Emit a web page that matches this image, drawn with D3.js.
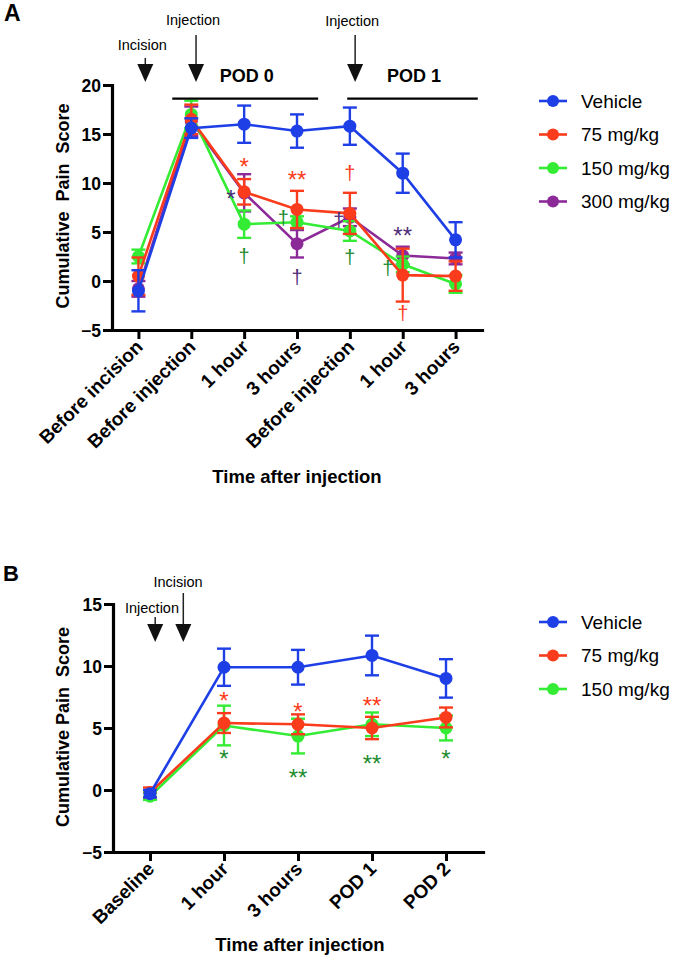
<!DOCTYPE html>
<html lang="en">
<head>
<meta charset="UTF-8">
<title>Cumulative pain score</title>
<style>
  body { margin: 0; background: #fff; }
  svg text { font-family: "Liberation Sans", Arial, Helvetica, sans-serif; }
</style>
</head>
<body>
<svg id="svg" width="677" height="960"></svg>
<script src="https://d3js.org/d3.v7.min.js"></script>
<script>
// ---------- panel A data ----------
const catsA = ["Before incision", "Before injection", "1 hour", "3 hours", "Before injection", "1 hour", "3 hours"];
const seriesA = ["Vehicle", "75 mg/kg", "150 mg/kg", "300 mg/kg"];
const vehicleA = [-1.0, 15.6, 16.0, 15.3, 15.8, 11.0, 4.2];
const vehicleErrA = [2.1, 1.0, 1.9, 1.7, 1.9, 2.0, 1.8];
const mg75A = [0.5, 16.5, 9.1, 7.3, 6.9, 0.6, 0.5];
const mg75ErrA = [1.9, 1.5, 1.3, 1.9, 2.1, 2.7, 1.5];
const mg150A = [2.5, 17.0, 5.8, 6.0, 5.1, 1.7, -0.3];
const mg150ErrA = [0.7, 1.4, 1.4, 0.6, 1.0, 0.8, 0.9];
const mg300A = [-0.8, 16.3, 9.0, 3.8, 6.5, 2.6, 2.3];
const mg300ErrA = [0.8, 1.5, 1.9, 1.4, 0.9, 0.9, 0.6];
const yTicksA = [-5, 0, 5, 10, 15, 20];
// significance marks: [symbol, series, category, value, shift (in category steps)]
const marksA = [
  ["*", 1, 2, 12.2, 0],
  ["**", 1, 3, 10.9, 0],
  ["*", 3, 2, 9.0, -0.25],
  ["\u2020", 2, 2, 2.5, 0],
  ["\u2020", 2, 3, 6.3, -0.26],
  ["\u2020", 3, 3, 0.3, 0],
  ["\u2020", 3, 4, 6.1, -0.21],
  ["\u2020", 1, 4, 10.9, 0],
  ["\u2020", 2, 4, 2.3, 0],
  ["\u2020", 2, 5, 1.2, -0.28],
  ["**", 3, 5, 5.2, 0],
  ["\u2020", 1, 5, -3.4, 0]
];

// ---------- panel B data ----------
const catsB = ["Baseline", "1 hour", "3 hours", "POD 1", "POD 2"];
const seriesB = ["Vehicle", "75 mg/kg", "150 mg/kg"];
const vehicleB = [-0.3, 9.9, 9.9, 10.85, 9.0];
const vehicleErrB = [0.3, 1.5, 1.4, 1.6, 1.55];
const mg75B = [-0.2, 5.4, 5.3, 5.0, 5.85];
const mg75ErrB = [0.4, 0.8, 0.8, 0.9, 0.8];
const mg150B = [-0.5, 5.2, 4.35, 5.3, 5.0];
const mg150ErrB = [0.3, 1.6, 1.4, 0.95, 1.0];
const yTicksB = [-5, 0, 5, 10, 15];
const marksB = [
  ["*", 1, 1, 7.66, 0],
  ["*", 2, 1, 3.0, 0],
  ["*", 1, 2, 6.8, 0],
  ["**", 2, 2, 1.45, 0],
  ["**", 1, 3, 7.26, 0],
  ["**", 2, 3, 2.6, 0],
  ["*", 2, 4, 3.0, 0]
];

const colors = ["#1f3fe6", "#fa3c1c", "#33ec33", "#8c2a98"];
const markColors = ["#1f3fe6", "#fa3c1c", "#1f8c30", "#4f2d78"];

const svg = d3.select("#svg");

function arrow(x, y0, y1) {
  svg.append("line")
    .attr("x1", x).attr("x2", x)
    .attr("y1", y0).attr("y2", y1 - 17)
    .attr("stroke", "#222").attr("stroke-width", 1.5);
  svg.append("path")
    .attr("d", `M${x - 8},${y1 - 18}L${x + 8},${y1 - 18}L${x},${y1}Z`)
    .attr("fill", "#111");
}

function drawPanel(opt) {
  const x = d3.scalePoint()
    .domain(d3.range(opt.cats.length))
    .range(opt.xr)
    .padding(0.5);
  const y = d3.scaleLinear().domain(opt.yDomain).range(opt.yr);
  const xAt = i => x(0) + i * x.step();

  // axes
  const gy = svg.append("g")
    .attr("transform", `translate(${opt.xr[0]},0)`)
    .call(d3.axisLeft(y).tickValues(opt.yTicks).tickSize(9).tickSizeOuter(0).tickPadding(2));
  const gx = svg.append("g")
    .attr("transform", `translate(0,${opt.yr[0]})`)
    .call(d3.axisBottom(x).tickSize(9).tickSizeOuter(0).tickFormat(i => opt.cats[i]));

  [gx, gy].forEach(g => {
    g.select(".domain").attr("stroke", "#000").attr("stroke-width", 3.2).attr("stroke-linecap", "square");
    g.selectAll(".tick line").attr("stroke", "#000").attr("stroke-width", 3);
  });
  gy.selectAll(".tick text")
    .attr("fill", "#000").style("font-size", "17.5px").style("font-weight", "bold")
    .attr("dy", "0.36em");
  gx.selectAll(".tick text")
    .attr("fill", "#000").style("font-size", "19px").style("font-weight", "bold")
    .attr("y", 0).attr("dy", 0)
    .attr("transform", "translate(5,18) rotate(-45)")
    .style("text-anchor", "end");

  // axis titles
  svg.append("text")
    .attr("transform", `translate(69,${opt.yTitleY}) rotate(-90)`)
    .attr("text-anchor", "middle")
    .style("font-size", "18px").style("font-weight", "bold")
    .style("white-space", "pre")
    .text(opt.yTitle);
  svg.append("text")
    .attr("x", opt.xTitleX).attr("y", opt.xTitleY)
    .attr("text-anchor", "middle")
    .style("font-size", "18.5px").style("font-weight", "bold")
    .text("Time after injection");

  // series, last one drawn first so Vehicle sits on top
  const line = d3.line().x((d, i) => x(i)).y(d => y(d));
  for (let s = opt.values.length - 1; s >= 0; s--) {
    const g = svg.append("g").attr("stroke", colors[s]).attr("fill", colors[s]);
    const vals = opt.values[s], errs = opt.errors[s];
    g.append("path").datum(vals).attr("d", line).attr("fill", "none").attr("stroke-width", 2.6);
    const bars = g.selectAll(".err").data(vals).join("g").attr("class", "err")
      .attr("stroke-width", 2.4);
    bars.append("line")
      .attr("x1", (d, i) => x(i)).attr("x2", (d, i) => x(i))
      .attr("y1", (d, i) => y(d - errs[i])).attr("y2", (d, i) => y(d + errs[i]));
    [-1, 1].forEach(sign => {
      bars.append("line")
        .attr("x1", (d, i) => x(i) - 7).attr("x2", (d, i) => x(i) + 7)
        .attr("y1", (d, i) => y(d + sign * errs[i])).attr("y2", (d, i) => y(d + sign * errs[i]));
    });
    g.selectAll("circle").data(vals).join("circle")
      .attr("cx", (d, i) => x(i)).attr("cy", d => y(d)).attr("r", 6.5).attr("stroke", "none");
  }

  // significance marks
  svg.append("g").selectAll("text").data(opt.marks).join("text")
    .attr("x", d => xAt(d[2] + d[4]))
    .attr("y", d => y(d[3]) + (d[0] === "\u2020" ? 6 : 14))
    .attr("text-anchor", "middle")
    .attr("fill", d => markColors[d[1]])
    .style("font-size", d => d[0] === "\u2020" ? "20px" : "24px")
    .text(d => d[0]);

  // legend
  const lg = svg.append("g").selectAll("g").data(opt.series).join("g")
    .attr("transform", (d, i) => `translate(539,${opt.legendY + i * 33.5})`);
  lg.append("line").attr("x1", 0).attr("x2", 28)
    .attr("stroke", (d, i) => colors[i]).attr("stroke-width", 2.6);
  lg.append("circle").attr("cx", 14).attr("r", 6).attr("fill", (d, i) => colors[i]);
  lg.append("text").attr("x", 42).attr("dy", "0.36em")
    .style("font-size", "19px").text(d => d);

  return { x, y, xAt };
}

// ---------- panel A ----------
const A = drawPanel({
  cats: catsA, series: seriesA,
  values: [vehicleA, mg75A, mg150A, mg300A],
  errors: [vehicleErrA, mg75ErrA, mg150ErrA, mg300ErrA],
  marks: marksA, yTicks: yTicksA,
  xr: [112, 482], yr: [330, 85], yDomain: [-5, 20],
  yTitle: "Cumulative  Pain  Score", yTitleY: 206,
  xTitleX: 297, xTitleY: 483, legendY: 101
});

svg.append("text").attr("x", 4).attr("y", 21)
  .style("font-size", "23px").style("font-weight", "bold").text("A");

// events above panel A
[["Incision", 0.13, 50, 58], ["Injection", 1.09, 25, 35], ["Injection", 4.1, 26, 35]].forEach(([label, at, ty, ly]) => {
  const px = A.xAt(at);
  svg.append("text").attr("x", px - 3).attr("y", ty).attr("text-anchor", "middle")
    .style("font-size", "14.5px").text(label);
  arrow(px, ly, 82);
});
[["POD 0", 0.64, 3.4], ["POD 1", 3.95, 6.42]].forEach(([label, a, b]) => {
  svg.append("line")
    .attr("x1", A.xAt(a)).attr("x2", A.xAt(b))
    .attr("y1", A.y(18.6)).attr("y2", A.y(18.6))
    .attr("stroke", "#000").attr("stroke-width", 2.2);
  svg.append("text").attr("x", A.xAt((a + b) / 2 + 0.03)).attr("y", 82)
    .attr("text-anchor", "middle")
    .style("font-size", "18px").style("font-weight", "bold").text(label);
});

// ---------- panel B ----------
const B = drawPanel({
  cats: catsB, series: seriesB,
  values: [vehicleB, mg75B, mg150B],
  errors: [vehicleErrB, mg75ErrB, mg150ErrB],
  marks: marksB, yTicks: yTicksB,
  xr: [113, 483], yr: [852, 604], yDomain: [-5, 15],
  yTitle: "Cumulative Pain  Score", yTitleY: 727,
  xTitleX: 300, xTitleY: 951, legendY: 622
});

svg.append("text").attr("x", 3).attr("y", 581)
  .style("font-size", "22px").style("font-weight", "bold").text("B");

svg.append("text").attr("x", 152).attr("y", 613).attr("text-anchor", "middle")
  .style("font-size", "14.5px").text("Injection");
arrow(B.xAt(0.07), 617, 642);
svg.append("text").attr("x", 178).attr("y", 587).attr("text-anchor", "middle")
  .style("font-size", "14.5px").text("Incision");
arrow(B.xAt(0.45), 593, 642);
</script>
</body>
</html>
